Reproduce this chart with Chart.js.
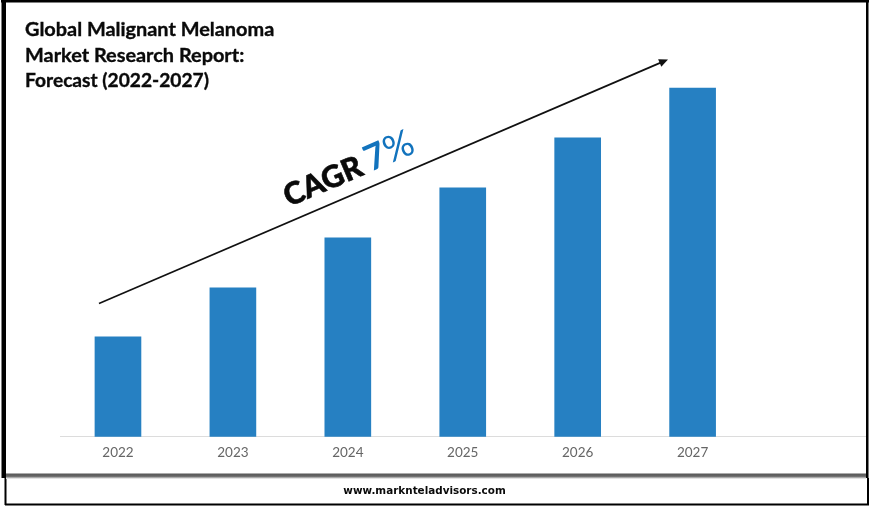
<!DOCTYPE html>
<html><head><meta charset="utf-8">
<style>html,body{margin:0;padding:0;background:#fff}#w{width:870px;height:506px;position:relative}canvas{display:block}</style>
<script src="https://cdn.jsdelivr.net/npm/chart.js@4"></script></head>
<body><div id="w"><canvas id="c" width="870" height="506"></canvas></div>
<script>
const categories = ['2022','2023','2024','2025','2026','2027',''];
const values = [100,149,199,249,299,349,null];
const titleLines = ['Global Malignant Melanoma','Market Research Report:','Forecast (2022-2027)'];
const footerText = 'www.marknteladvisors.com';
const cagrLabel = 'CAGR';
const cagrNumber = '7';
const cagrPercent = '%';

const decor = {
  id:'decor',
  beforeDraw(ch){
    const g=ch.ctx; g.save();
    g.fillStyle='#fff'; g.fillRect(0,0,870,506);
    g.fillStyle='#000';
    g.fillRect(1,0,868,2.5);
    g.fillRect(1.5,2,4.5,476);
    g.fillRect(866,0,2.5,478);
    g.fillRect(4.5,478,2,27);
    g.fillRect(867,478,2,27);
    g.fillRect(5,503.5,864,2);
    const sh=g.createLinearGradient(0,473,0,479);
    sh.addColorStop(0,'#555');sh.addColorStop(.55,'#666');sh.addColorStop(1,'#fff');
    g.fillStyle=sh; g.fillRect(6,473.5,860,5.5);
    g.restore();
  },
  afterDraw(ch){
    const g=ch.ctx; g.save();
    g.fillStyle='#0a0a0a'; g.strokeStyle='#0a0a0a'; g.lineWidth=0.35; g.textBaseline='alphabetic'; g.textAlign='left';
    g.font='bold 19.9px Lato';
    const maxW=[250,222,184];
    titleLines.forEach((t,i)=>{g.fillText(t,25,36+i*25.5,maxW[i]);g.strokeText(t,25,36+i*25.5,maxW[i]);});
    g.font='bold 10.4px "DejaVu Sans"'; g.textAlign='center';
    g.fillText(footerText,424.5,494);
    const x0=99,y0=303.5,x1=668,y1=59.5,a=Math.atan2(y1-y0,x1-x0);
    g.strokeStyle='#111'; g.lineWidth=1.7;
    g.beginPath(); g.moveTo(x0,y0); g.lineTo(x1-6*Math.cos(a),y1-6*Math.sin(a)); g.stroke();
    g.translate(x1,y1); g.rotate(a); g.fillStyle='#111';
    g.beginPath(); g.moveTo(0,0); g.lineTo(-9,-4); g.lineTo(-9,4); g.closePath(); g.fill();
    g.restore();
    g.save();
    g.translate(289,207); g.rotate(-0.405); g.textAlign='left'; g.textBaseline='alphabetic';
    g.font='900 30.5px Lato'; g.fillStyle='#0a0a0a'; g.strokeStyle='#0a0a0a'; g.lineWidth=0.6;
    g.fillText(cagrLabel,0,0); g.strokeText(cagrLabel,0,0);
    const w=g.measureText(cagrLabel).width;
    g.fillStyle='#1273bd';
    g.font='bold 36px Lato';
    g.fillText(cagrNumber,w+6,0);
    const w2=g.measureText(cagrNumber).width;
    g.font='400 37px Lato';
    g.fillText(cagrPercent,w+6+w2,0);
    g.restore();
  }
};

new Chart(document.getElementById('c'),{
  type:'bar',
  data:{labels:categories,datasets:[{data:values,backgroundColor:'#2680c2',borderWidth:0,barThickness:46}]},
  options:{
    responsive:false,animation:false,devicePixelRatio:1,
    layout:{padding:{left:60.5,right:5,top:37,bottom:38}},
    plugins:{legend:{display:false},title:{display:false},tooltip:{enabled:false}},
    scales:{
      x:{grid:{display:false,drawTicks:false},border:{display:true,color:'#dcdcdc',width:1},
         ticks:{color:'#666',font:{family:'Lato',size:13.5},padding:7.5,maxRotation:0}},
      y:{display:false,min:0,max:400}
    }
  },
  plugins:[decor]
});
</script></body></html>
